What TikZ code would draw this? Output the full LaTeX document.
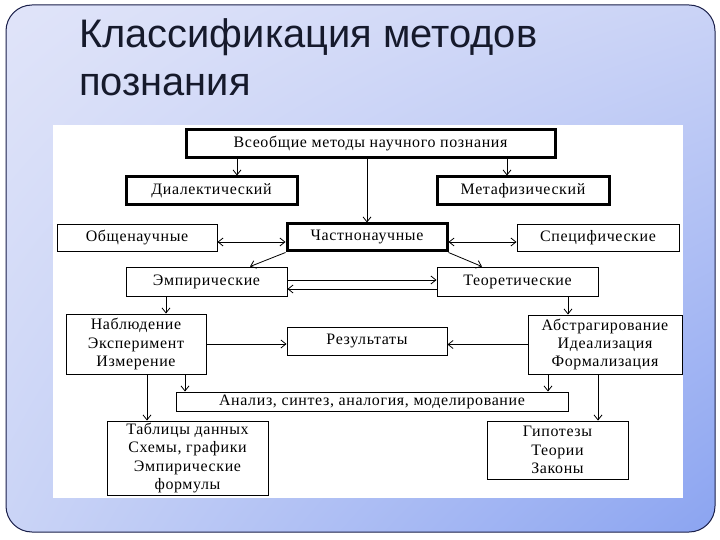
\documentclass[tikz,border=0pt]{standalone}
\usepackage{fontspec}
\setmainfont[LetterSpace=4]{Liberation Serif}
\newfontfamily\titlefont{Liberation Sans}
\usetikzlibrary{arrows.meta,calc,shadings}
\definecolor{frameline}{HTML}{1A1F4A}
\definecolor{ulc}{HTML}{E0E4F9}
\definecolor{urc}{HTML}{CAD3F6}
\definecolor{llc}{HTML}{CAD4F6}
\definecolor{lrc}{HTML}{8BA4F1}
\definecolor{titlecol}{HTML}{161A2C}
\tikzset{
  box/.style={draw=black, line width=0.9bp, fill=white, inner sep=0pt, align=center,
    font=\fontsize{16}{18.5}\selectfont, text=black},
  thickbox/.style={box, line width=3bp},
  arr/.style={draw=black, line width=0.8bp, -{Straight Barb[length=5bp,width=8bp]}},
  darr/.style={draw=black, line width=0.8bp, {Straight Barb[length=5bp,width=8bp]}-{Straight Barb[length=5bp,width=8bp]}},
}
\begin{document}
\begin{tikzpicture}[x=1bp,y=-1bp]
\useasboundingbox (0,0) rectangle (720,540);
\fill[white] (0,0) rectangle (720,540);
\shade[rounded corners=26bp, upper left=ulc, upper right=urc, lower left=llc, lower right=lrc]
  (6,5) rectangle (715,532);
\draw[frameline, line width=1bp, rounded corners=26bp] (6,5) rectangle (715,532);
\node[anchor=base west, inner sep=0pt, font=\titlefont\fontsize{40}{48}\selectfont, text=titlecol]
  (t1) at (79,48) {Классификация методов};
\node[anchor=base west, inner sep=0pt, font=\titlefont\fontsize{40}{48}\selectfont, text=titlecol]
  (t2) at (79,96) {познания};
\fill[white] (53,125) rectangle (683,498);

\node[thickbox, minimum width=369bp, minimum height=28bp] (vseob) at (370.5,144) {Всеобщие методы научного познания};
\node[thickbox, minimum width=171bp, minimum height=28bp] (dial) at (211.5,191) {Диалектический};
\node[thickbox, minimum width=172bp, minimum height=28bp] (meta) at (523,191) {Метафизический};
\node[box, minimum width=160bp, minimum height=27bp] (obsh) at (137,237.5) {Общенаучные};
\node[thickbox, minimum width=160bp, minimum height=27bp] (chast) at (367,237.5) {Частнонаучные};
\node[box, minimum width=162bp, minimum height=27bp] (spec) at (598,237.5) {Специфические};
\node[box, minimum width=161bp, minimum height=29bp] (emp) at (206.5,281.5) {Эмпирические};
\node[box, minimum width=161bp, minimum height=29bp] (teor) at (517.5,281.5) {Теоретические};
\node[box, minimum width=140bp, minimum height=60bp] (nabl) at (136,344) {Наблюдение\\Эксперимент\\Измерение};
\node[box, minimum width=160bp, minimum height=28bp] (rez) at (367,341) {Результаты};
\node[box, minimum width=154bp, minimum height=59bp] (abst) at (605,344.5) {Абстрагирование\\Идеализация\\Формализация};
\node[box, minimum width=392bp, minimum height=19bp] (anal) at (372,401.5) {Анализ, синтез, аналогия, моделирование};
\node[box, minimum width=161bp, minimum height=74bp] (tabl) at (187.5,458) {Таблицы данных\\Схемы, графики\\Эмпирические\\формулы};
\node[box, minimum width=141bp, minimum height=58bp] (gip) at (557.5,450) {Гипотезы\\Теории\\Законы};

% connectors
\draw[arr] ([xshift=25.5bp]dial.north |- vseob.south) -- ([xshift=25.5bp]dial.north);
\draw[arr] ([xshift=-16bp]meta.north |- vseob.south) -- ([xshift=-16bp]meta.north);
\draw[arr] (chast.north |- vseob.south) -- (chast.north);
\draw[darr] ([yshift=-4.5bp]obsh.east) -- ([yshift=-4.5bp]chast.west);
\draw[darr] ([yshift=-4.5bp]chast.east) -- ([yshift=-4.5bp]spec.west);
\draw[arr] (chast.south west) -- ([xshift=43.5bp]emp.north);
\draw[arr] (chast.south east) -- ([xshift=-35.5bp]teor.north);
\draw[arr] ([yshift=1.5bp]emp.east) -- ([yshift=1.5bp]teor.west);
\draw[arr] ([yshift=-7.5bp]teor.west) -- ([yshift=-7.5bp]emp.east);
\draw[arr] ([xshift=-40.5bp]emp.south) -- ([xshift=-40.5bp]emp.south |- nabl.north);
\draw[arr] ([xshift=50.5bp]teor.south) -- ([xshift=50.5bp]teor.south |- abst.north);
\draw[arr] (nabl.east) -- (rez.west |- nabl.east);
\draw[arr] (abst.west) -- (rez.east |- abst.west);
\draw[arr] ([xshift=49bp]nabl.south) -- ([xshift=49bp]nabl.south |- anal.north);
\draw[arr] ([xshift=-57bp]abst.south) -- ([xshift=-57bp]abst.south |- anal.north);
\draw[arr] ([xshift=11bp]nabl.south) -- ([xshift=11bp]nabl.south |- tabl.north);
\draw[arr] ([xshift=-7bp]abst.south) -- ([xshift=-7bp]abst.south |- gip.north);
\end{tikzpicture}
\end{document}
